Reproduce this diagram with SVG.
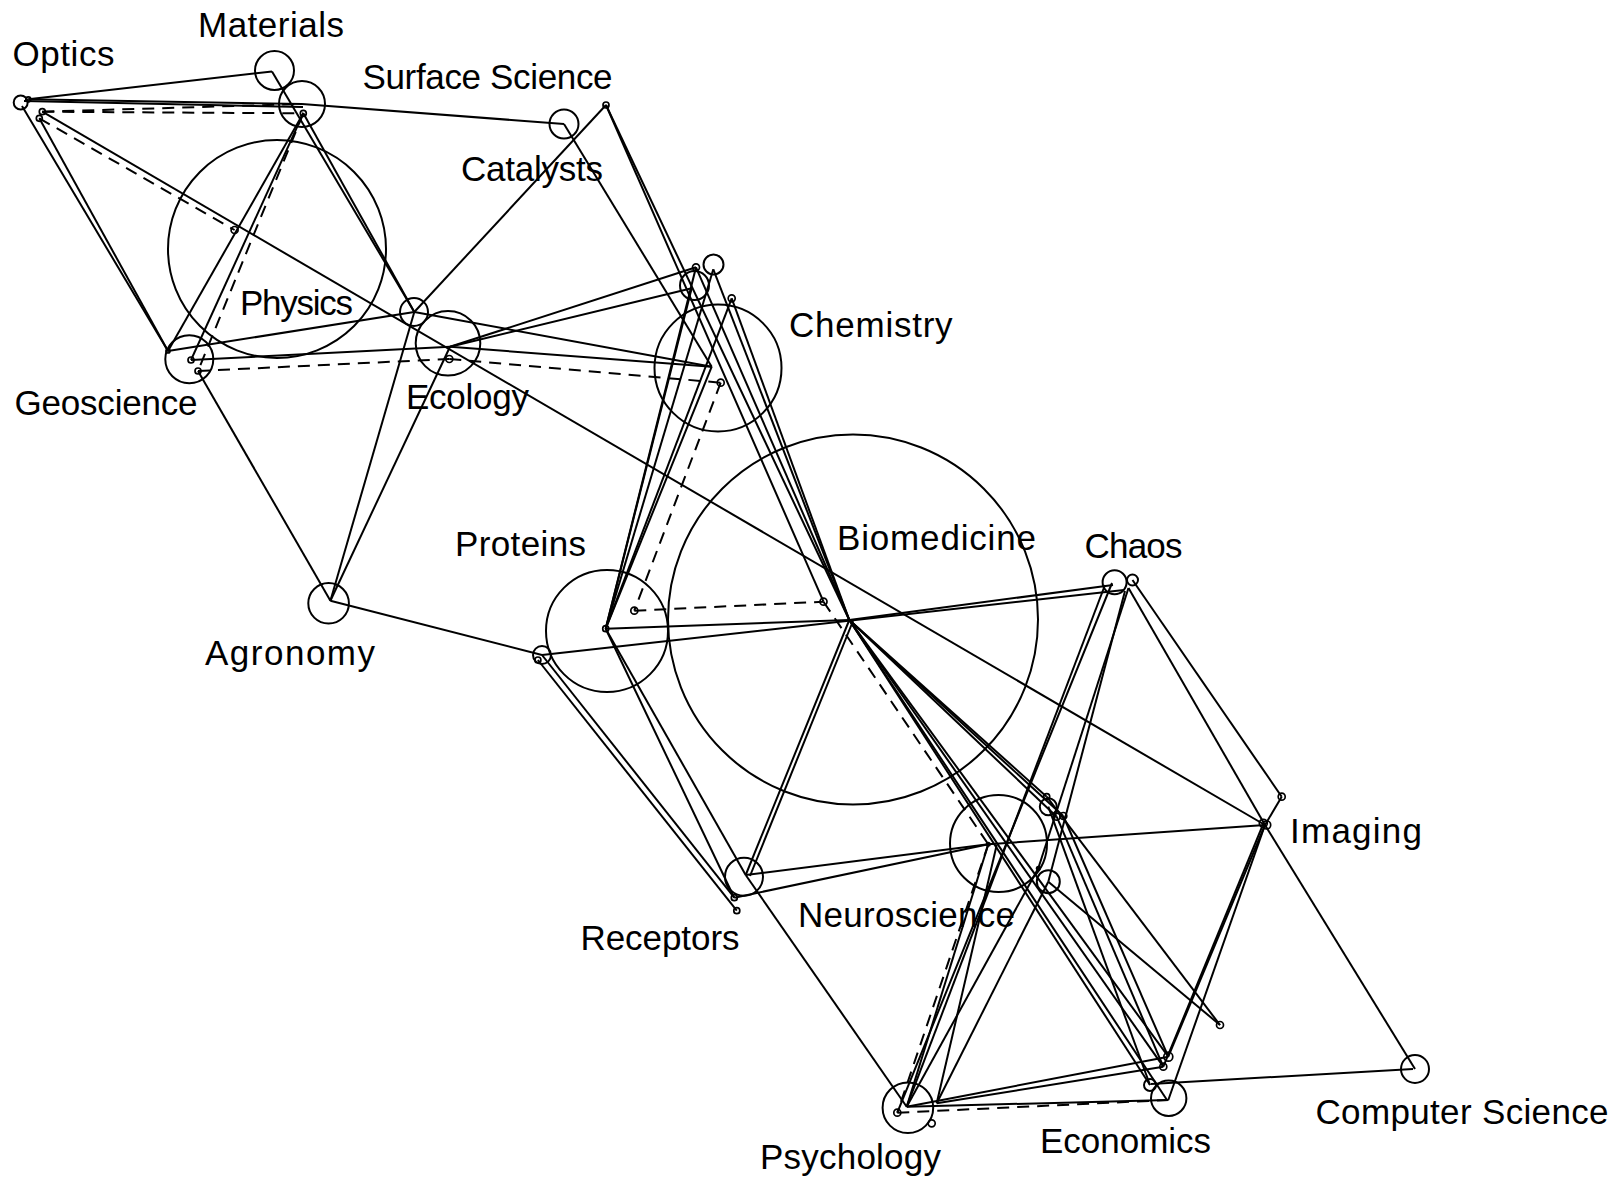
<svg xmlns="http://www.w3.org/2000/svg" width="1624" height="1185" viewBox="0 0 1624 1185">
<style>
.bg{fill:#fff}
circle{fill:none;stroke:#000;stroke-width:2}
circle.s{stroke-width:1.7}
circle.d{fill:#000;stroke:none}
#connectors line{stroke:#000;stroke-width:2;fill:none}
#connectors line.dash{stroke-dasharray:12 8}
text{font-family:"Liberation Sans",Arial,sans-serif;font-size:35px;fill:#000}
</style>
<rect class="bg" x="0" y="0" width="1624" height="1185"/>
<g id="connectors">
<line x1="28.3" y1="99.3" x2="272" y2="71.5"/>
<line x1="28.3" y1="99.3" x2="302" y2="104"/>
<line x1="24" y1="101" x2="303" y2="107"/>
<line x1="302" y1="104" x2="564" y2="124"/>
<line x1="22" y1="106" x2="168" y2="351"/>
<line x1="39.3" y1="118.3" x2="168" y2="351"/>
<line x1="303.3" y1="113.3" x2="168" y2="351"/>
<line x1="303.3" y1="113.3" x2="191" y2="360"/>
<line x1="272" y1="71.5" x2="414.3" y2="312"/>
<line x1="303.3" y1="113.3" x2="414.3" y2="312"/>
<line x1="168" y1="351" x2="414.3" y2="312"/>
<line x1="191" y1="360" x2="450" y2="346.7"/>
<line x1="42.3" y1="111.7" x2="1265" y2="825"/>
<line x1="414.3" y1="312" x2="606" y2="105"/>
<line x1="414.3" y1="312" x2="711.7" y2="366.7"/>
<line x1="450" y1="346.7" x2="711.7" y2="366.7"/>
<line x1="450" y1="346.7" x2="696" y2="267.3"/>
<line x1="450" y1="346.7" x2="691.7" y2="288.3"/>
<line x1="330.4" y1="600.7" x2="414.3" y2="312"/>
<line x1="330.4" y1="600.7" x2="450" y2="346.7"/>
<line x1="198" y1="371" x2="330.4" y2="600.7"/>
<line x1="330.4" y1="600.7" x2="542" y2="655"/>
<line x1="564" y1="124" x2="711.7" y2="366.7"/>
<line x1="606" y1="105" x2="849.3" y2="620"/>
<line x1="606" y1="105" x2="823.5" y2="601.7"/>
<line x1="696" y1="267.3" x2="849.3" y2="620"/>
<line x1="713.3" y1="269.3" x2="849.3" y2="620"/>
<line x1="731.7" y1="298.3" x2="849.3" y2="620"/>
<line x1="696" y1="267.3" x2="605.7" y2="628.7"/>
<line x1="691.7" y1="288.3" x2="605.7" y2="628.7"/>
<line x1="713.3" y1="269.3" x2="605.7" y2="628.7"/>
<line x1="731.7" y1="298.3" x2="605.7" y2="628.7"/>
<line x1="711.7" y1="366.7" x2="605.7" y2="628.7"/>
<line x1="605.7" y1="628.7" x2="849.3" y2="620"/>
<line x1="849.3" y1="620" x2="1113" y2="585"/>
<line x1="542" y1="655" x2="1124" y2="590"/>
<line x1="605.7" y1="628.7" x2="745.7" y2="875"/>
<line x1="605.7" y1="628.7" x2="734.3" y2="897.7"/>
<line x1="542" y1="655" x2="734.3" y2="897.7"/>
<line x1="537.9" y1="660" x2="736.8" y2="910.7"/>
<line x1="849.3" y1="620" x2="745.7" y2="875"/>
<line x1="853" y1="621" x2="750" y2="876"/>
<line x1="745.7" y1="875" x2="988.3" y2="844.3"/>
<line x1="734.3" y1="897.7" x2="988.3" y2="844.3"/>
<line x1="745.7" y1="875" x2="906.7" y2="1106.7"/>
<line x1="988.3" y1="844.3" x2="1265" y2="825"/>
<line x1="849.3" y1="620" x2="1150" y2="1085"/>
<line x1="849.3" y1="620" x2="1163.3" y2="1066.7"/>
<line x1="849.3" y1="620" x2="1168.3" y2="1056.7"/>
<line x1="849.3" y1="620" x2="1167" y2="1100"/>
<line x1="849.3" y1="620" x2="1046.7" y2="796.7"/>
<line x1="849.3" y1="620" x2="1056.7" y2="816.7"/>
<line x1="849.3" y1="620" x2="1063.3" y2="816"/>
<line x1="1128.5" y1="588" x2="1038.3" y2="868.3"/>
<line x1="1125" y1="591" x2="1048.3" y2="881.7"/>
<line x1="1038.3" y1="868.3" x2="906.7" y2="1106.7"/>
<line x1="1048.3" y1="881.7" x2="936.7" y2="1103.3"/>
<line x1="906.7" y1="1106.7" x2="1105" y2="585"/>
<line x1="897.3" y1="1112.7" x2="1112" y2="583"/>
<line x1="988.3" y1="844.3" x2="906.7" y2="1106.7"/>
<line x1="996.7" y1="845" x2="936.7" y2="1103.3"/>
<line x1="1128.5" y1="588" x2="1265" y2="825"/>
<line x1="1132.5" y1="580" x2="1281.7" y2="796.7"/>
<line x1="1281.7" y1="796.7" x2="1265" y2="825"/>
<line x1="1265" y1="825" x2="1415" y2="1069"/>
<line x1="1265" y1="825" x2="1168.3" y2="1056.7"/>
<line x1="1262" y1="827" x2="1163.3" y2="1066.7"/>
<line x1="1265" y1="825" x2="1168.3" y2="1100"/>
<line x1="1151" y1="1084" x2="1413" y2="1069"/>
<line x1="906.7" y1="1106.7" x2="1168.3" y2="1100"/>
<line x1="906.7" y1="1106.7" x2="1168.3" y2="1056.7"/>
<line x1="936.7" y1="1103.3" x2="1163.3" y2="1066.7"/>
<line x1="1046.7" y1="796.7" x2="1220" y2="1025"/>
<line x1="1048.3" y1="881.7" x2="1220" y2="1025"/>
<line x1="1056.7" y1="816.7" x2="1163.3" y2="1066.7"/>
<line x1="1063.3" y1="816" x2="1168.3" y2="1056.7"/>
<line x1="1048.3" y1="806.7" x2="1150" y2="1085"/>
<line class="dash" x1="42.3" y1="111.7" x2="302" y2="104"/>
<line class="dash" x1="42.3" y1="111.7" x2="303.3" y2="113.3"/>
<line class="dash" x1="39.3" y1="118.3" x2="234.6" y2="230"/>
<line class="dash" x1="303.3" y1="113.3" x2="198" y2="371"/>
<line class="dash" x1="198" y1="371" x2="449.3" y2="359"/>
<line class="dash" x1="449.3" y1="359" x2="720.7" y2="382.7"/>
<line class="dash" x1="720.7" y1="382.7" x2="634.3" y2="610.7"/>
<line class="dash" x1="634.3" y1="610.7" x2="823.5" y2="601.7"/>
<line class="dash" x1="823.5" y1="601.7" x2="988.3" y2="844.3"/>
<line class="dash" x1="988.3" y1="844.3" x2="897.3" y2="1112.7"/>
<line class="dash" x1="897.3" y1="1112.7" x2="1168.3" y2="1100"/>
</g>
<g id="optics"><circle cx="20.7" cy="102.5" r="7"/><circle class="s" cx="28.3" cy="99.3" r="2.5"/><circle class="s" cx="42.3" cy="111.7" r="3"/><circle class="s" cx="39.3" cy="118.3" r="3"/><text x="12.5" y="66" textLength="102">Optics</text></g>
<g id="materials"><circle cx="274.5" cy="70.5" r="19.5"/><text x="198" y="37" textLength="146">Materials</text></g>
<g id="materials-2"><circle cx="302" cy="104" r="23"/><circle class="s" cx="303.3" cy="113.3" r="3"/></g>
<g id="surface-science"><circle cx="564" cy="124" r="14.5"/><text x="362.5" y="89" textLength="250">Surface Science</text></g>
<g id="catalysts"><circle class="s" cx="606" cy="105" r="3"/><text x="461" y="181" textLength="142">Catalysts</text></g>
<g id="physics"><circle cx="277" cy="249" r="109"/><circle class="s" cx="234.6" cy="230" r="3.5"/><text x="240" y="315" textLength="113">Physics</text></g>
<g id="geoscience"><circle cx="189.3" cy="359.3" r="24"/><circle class="s" cx="168" cy="351" r="2"/><circle class="s" cx="191" cy="360" r="3"/><circle class="s" cx="198" cy="371" r="3"/><text x="14.5" y="415" textLength="183">Geoscience</text></g>
<g id="ecology-2"><circle cx="414" cy="312" r="14"/></g>
<g id="ecology"><circle cx="448" cy="343.3" r="32.3"/><circle class="s" cx="449.3" cy="359" r="3.5"/><text x="406" y="409" textLength="123">Ecology</text></g>
<g id="chemistry"><circle cx="718" cy="368" r="63.5"/><circle cx="713.5" cy="264.5" r="10"/><circle cx="694.5" cy="285.5" r="14.5"/><circle class="s" cx="696" cy="267.3" r="3.5"/><circle class="s" cx="731.7" cy="298.3" r="3.5"/><circle class="s" cx="720.7" cy="382.7" r="3.5"/><text x="789" y="337" textLength="163.6">Chemistry</text></g>
<g id="agronomy"><circle cx="328.6" cy="603.3" r="20.3"/><text x="205" y="665" textLength="170">Agronomy</text></g>
<g id="proteins"><circle cx="607" cy="631" r="61"/><circle class="s" cx="605.7" cy="628.7" r="3"/><circle class="s" cx="634.3" cy="610.7" r="3.5"/><circle cx="542" cy="655" r="9"/><circle class="s" cx="537.9" cy="660" r="3"/><text x="455" y="556" textLength="131">Proteins</text></g>
<g id="biomedicine"><circle cx="853" cy="619.5" r="185"/><circle class="s" cx="823.5" cy="601.7" r="3.5"/><text x="837" y="550" textLength="199">Biomedicine</text></g>
<g id="chaos"><circle cx="1114.6" cy="582.3" r="12"/><circle cx="1132.5" cy="580" r="5.5"/><text x="1084.5" y="558" textLength="98">Chaos</text></g>
<g id="imaging"><circle class="s" cx="1263.3" cy="823.3" r="4"/><circle class="s" cx="1266.7" cy="825" r="4"/><circle class="s" cx="1281.7" cy="796.7" r="3.5"/><text x="1290" y="843" textLength="132">Imaging</text></g>
<g id="receptors"><circle cx="744" cy="876.7" r="19"/><circle class="s" cx="734.3" cy="897.7" r="3"/><circle class="s" cx="736.8" cy="910.7" r="3"/><text x="580.5" y="949.5" textLength="159">Receptors</text></g>
<g id="neuroscience"><circle cx="998.5" cy="843.5" r="48.5"/><circle class="d" cx="988.3" cy="844.3" r="2.5"/><circle class="s" cx="1046.7" cy="796.7" r="3"/><circle cx="1048.3" cy="806.7" r="8.5"/><circle class="s" cx="1056.7" cy="816.7" r="3.5"/><circle class="s" cx="1063.3" cy="816" r="3.5"/><circle cx="1048.3" cy="881.7" r="11.5"/><circle class="d" cx="1038.3" cy="868.3" r="2.5"/><circle class="s" cx="1220" cy="1025" r="3.5"/><text x="798" y="927" textLength="217">Neuroscience</text></g>
<g id="psychology"><circle cx="907.9" cy="1107.7" r="25.3"/><circle class="s" cx="897.3" cy="1112.7" r="3.5"/><circle class="s" cx="931.7" cy="1123.3" r="3.5"/><text x="760" y="1169" textLength="181">Psychology</text></g>
<g id="economics"><circle cx="1168.7" cy="1098.3" r="17.7"/><circle class="s" cx="1168.3" cy="1056.7" r="4.5"/><circle class="s" cx="1163.3" cy="1066.7" r="3.5"/><circle cx="1150" cy="1085" r="6"/><text x="1040" y="1152.5" textLength="171">Economics</text></g>
<g id="computer-science"><circle cx="1415" cy="1069" r="14"/><text x="1315.5" y="1123.5" textLength="293">Computer Science</text></g>
</svg>
